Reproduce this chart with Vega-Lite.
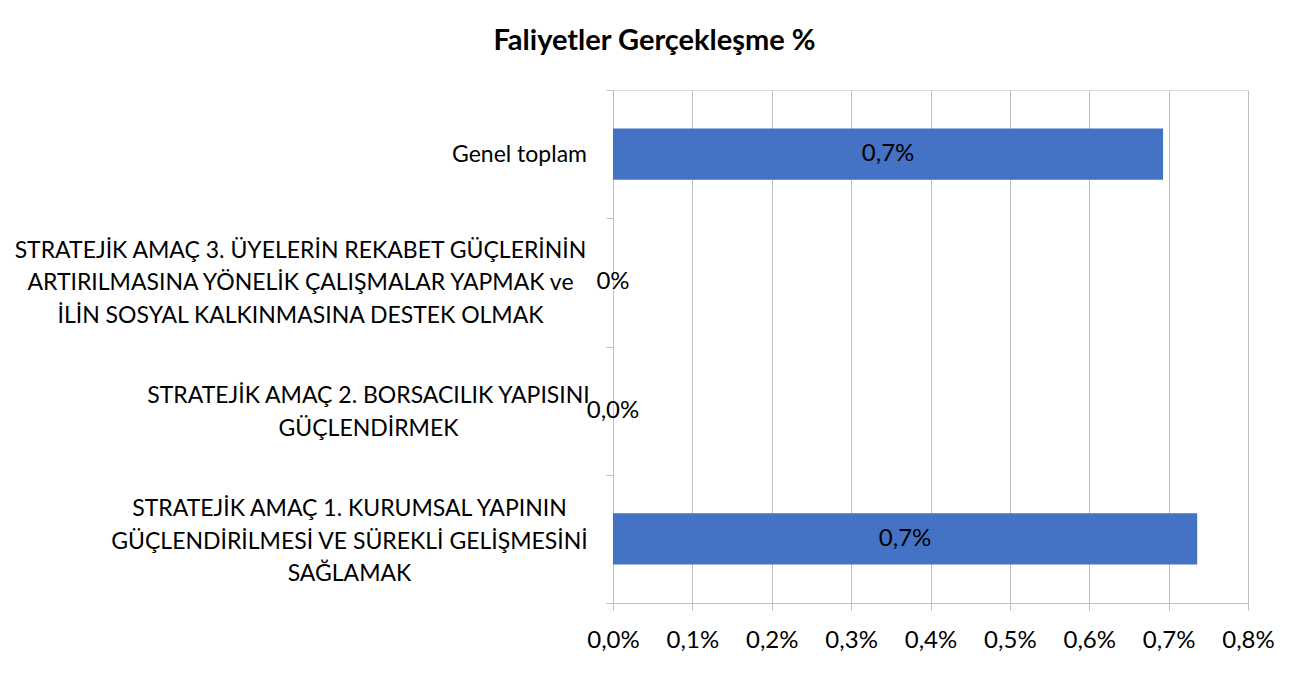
{
  "$schema": "https://vega.github.io/schema/vega-lite/v6.json",
  "width": 635,
  "height": 513,
  "autosize": {"type": "none"},
  "padding": {"left": 613, "top": 90, "right": 67, "bottom": 71},
  "background": "white",
  "title": {
    "text": "Faliyetler Gerçekleşme %",
    "font": "Lato",
    "fontSize": 29,
    "fontWeight": "bold",
    "color": "#000000",
    "anchor": "middle",
    "dx": -276,
    "offset": 0,
    "baseline": "alphabetic"
  },
  "data": {
    "values": [
      {"cat": "Genel toplam", "v": 0.00693, "label": "0,7%"},
      {"cat": "STRATEJİK AMAÇ 3. ÜYELERİN REKABET GÜÇLERİNİN|ARTIRILMASINA YÖNELİK ÇALIŞMALAR YAPMAK ve|İLİN SOSYAL KALKINMASINA DESTEK OLMAK", "v": 0, "label": "0%"},
      {"cat": "STRATEJİK AMAÇ 2. BORSACILIK YAPISINI|GÜÇLENDİRMEK", "v": 0, "label": "0,0%"},
      {"cat": "STRATEJİK AMAÇ 1. KURUMSAL YAPININ|GÜÇLENDİRİLMESİ VE SÜREKLİ GELİŞMESİNİ|SAĞLAMAK", "v": 0.00736, "label": "0,7%"}
    ]
  },
  "encoding": {
    "y": {
      "field": "cat",
      "type": "nominal",
      "sort": null,
      "scale": {"paddingInner": 0, "paddingOuter": 0},
      "axis": {
        "title": null,
        "tickBand": "extent",
        "ticks": true,
        "tickSize": 7,
        "tickColor": "#bfbfbf",
        "domainColor": "#bfbfbf",
        "grid": false,
        "labelExpr": "split(datum.label, '|')",
        "labelAlign": "center",
        "labelBaseline": "middle",
        "labelLineHeight": 32.5,
        "labelFont": "Lato",
        "labelFontSize": 23,
        "labelColor": "#000000",
        "labelLimit": 0,
        "labelPadding": {
          "condition": [
            {"test": "datum.value == 'Genel toplam'", "value": 87},
            {"test": "test(/AMAÇ 3/, datum.value)", "value": 306},
            {"test": "test(/AMAÇ 2/, datum.value)", "value": 238}
          ],
          "value": 257
        },
        "labelOffset": {
          "condition": [
            {"test": "datum.value == 'Genel toplam'", "value": 0},
            {"test": "test(/AMAÇ 2/, datum.value)", "value": -15},
            {"test": "test(/AMAÇ 3/, datum.value)", "value": -32}
          ],
          "value": -30
        }
      }
    }
  },
  "layer": [
    {
      "mark": {"type": "bar", "color": "#4472C4", "height": {"band": 0.4}},
      "encoding": {
        "x": {
          "field": "v",
          "type": "quantitative",
          "scale": {"domain": [0, 0.008], "nice": false},
          "axis": {
            "title": null,
            "values": [0, 0.001, 0.002, 0.003, 0.004, 0.005, 0.006, 0.007, 0.008],
            "labelExpr": "replace(format(datum.value, '.1%'), '.', ',')",
            "labelFlush": false,
            "grid": true,
            "gridColor": "#bfbfbf",
            "domainColor": "#bfbfbf",
            "tickColor": "#bfbfbf",
            "tickSize": 7,
            "labelPadding": 18,
            "labelFont": "Lato",
            "labelFontSize": 24,
            "labelColor": "#000000"
          }
        }
      }
    },
    {
      "transform": [{"calculate": "datum.v / 2", "as": "mid"}],
      "mark": {"type": "text", "font": "Lato", "fontSize": 24, "color": "#000000", "align": "center", "baseline": "middle"},
      "encoding": {
        "x": {"field": "mid", "type": "quantitative"},
        "text": {"field": "label"}
      }
    }
  ]
}
